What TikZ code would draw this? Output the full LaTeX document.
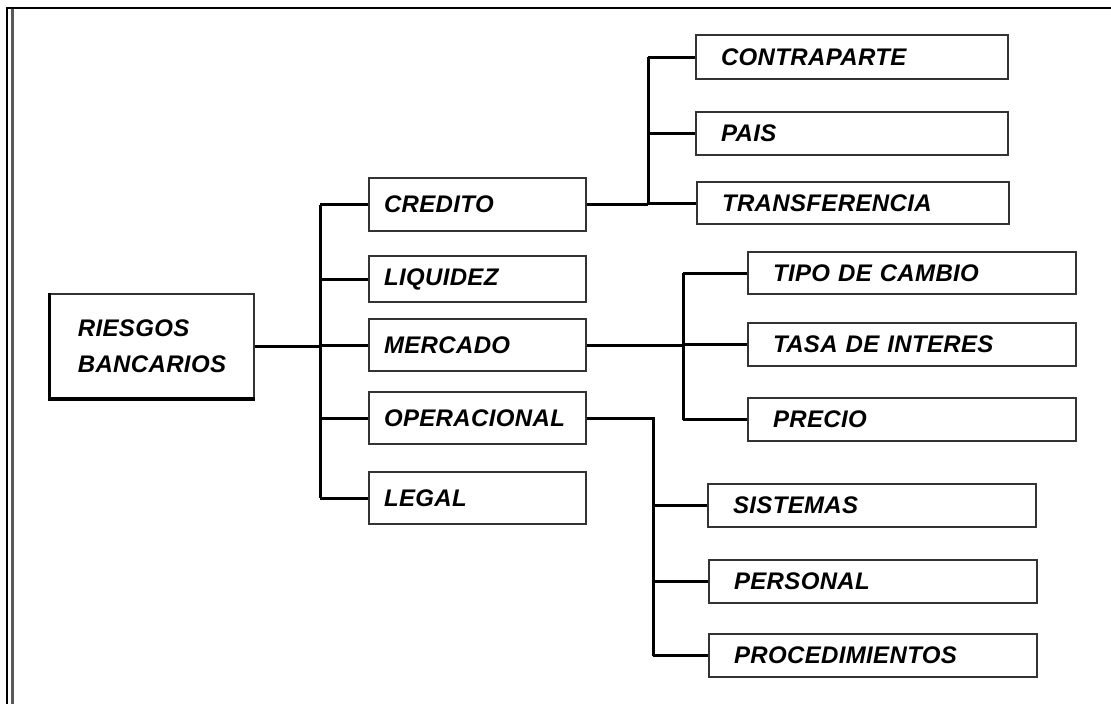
\documentclass[tikz,border=0pt]{standalone}
\usepackage{fontspec}
\setmainfont{Liberation Sans}[LetterSpace=1.5,WordSpace=1.4]
\begin{document}
\begin{tikzpicture}[x=1pt,y=-1pt,
  lbl/.style={font=\fontsize{24}{36}\selectfont\bfseries\itshape},
  bx/.style={draw=black!80, line width=1.5pt, fill=white, lbl, align=left, inner ysep=0pt},
  lvone/.style={bx, text width=187pt, inner xsep=15pt},
  lvtwoa/.style={bx, text width=262pt, inner xsep=25pt},
  lvtwob/.style={bx, text width=278pt, inner xsep=25pt},
  conn/.style={line width=3pt, line join=miter}
]
\useasboundingbox (0,0) rectangle (1111,704);
% frame
\draw[line width=1.5pt] (7,704) -- (7,8) -- (1111,8);
\draw[line width=3pt, black!65] (12,9) -- (12,704);

% root
\node[bx, minimum width=204pt, minimum height=104pt, inner xsep=0pt] (root) at (152,346) {RIESGOS\\BANCARIOS};
\draw[line width=3.5pt] (root.north west) -- (root.south west) -- (root.south east);

% level one
\node[lvone, minimum height=53pt] (credito) at (477.5,204.5) {CREDITO};
\node[lvone, minimum height=46pt] (liquidez) at (477.5,279) {LIQUIDEZ};
\node[lvone, minimum height=52pt] (mercado) at (477.5,345) {MERCADO};
\node[lvone, minimum height=52pt] (oper) at (477.5,418) {OPERACIONAL};
\node[lvone, minimum height=52pt] (legal) at (477.5,498) {LEGAL};

% level two
\node[lvtwoa, minimum height=44pt] (contra) at (852,57) {CONTRAPARTE};
\node[lvtwoa, minimum height=43pt] (pais) at (852,133.5) {PAIS};
\node[lvtwoa, minimum height=42pt] (transf) at (853,203) {TRANSFERENCIA};
\node[lvtwob, minimum height=42pt] (tipo) at (912,273) {TIPO DE CAMBIO};
\node[lvtwob, minimum height=43pt] (tasa) at (912,344.5) {TASA DE INTERES};
\node[lvtwob, minimum height=43pt] (precio) at (912,419.5) {PRECIO};
\node[lvtwob, minimum height=43pt] (sist) at (872,505.5) {SISTEMAS};
\node[lvtwob, minimum height=43pt] (pers) at (873,581.5) {PERSONAL};
\node[lvtwob, minimum height=43pt] (proc) at (873,655.5) {PROCEDIMIENTOS};

% junction x positions
\coordinate (tk) at (320,0);
\coordinate (cj) at (648,0);
\coordinate (mj) at (683,0);
\coordinate (oj) at (653,0);

% root connectors
\draw[conn] (root.east) -- (root.east -| tk);
\draw[conn] (tk |- credito.west) -- (tk |- legal.west);
\foreach \n in {credito,liquidez,mercado,oper,legal}
  \draw[conn] (tk |- \n.west) -- (\n.west);

% credito
\draw[conn] (credito.east) -- (credito.east -| cj);
\draw[conn] (cj |- contra.west) -- (cj |- transf.west);
\foreach \n in {contra,pais,transf}
  \draw[conn] (cj |- \n.west) -- (\n.west);

% mercado
\draw[conn] (mercado.east) -- (mercado.east -| mj);
\draw[conn] (mj |- tipo.west) -- (mj |- precio.west);
\foreach \n in {tipo,tasa,precio}
  \draw[conn] (mj |- \n.west) -- (\n.west);

% operacional
\draw[conn] (oper.east) -- (oper.east -| oj) -- (oj |- proc.west);
\foreach \n in {sist,pers,proc}
  \draw[conn] (oj |- \n.west) -- (\n.west);
\end{tikzpicture}
\end{document}
